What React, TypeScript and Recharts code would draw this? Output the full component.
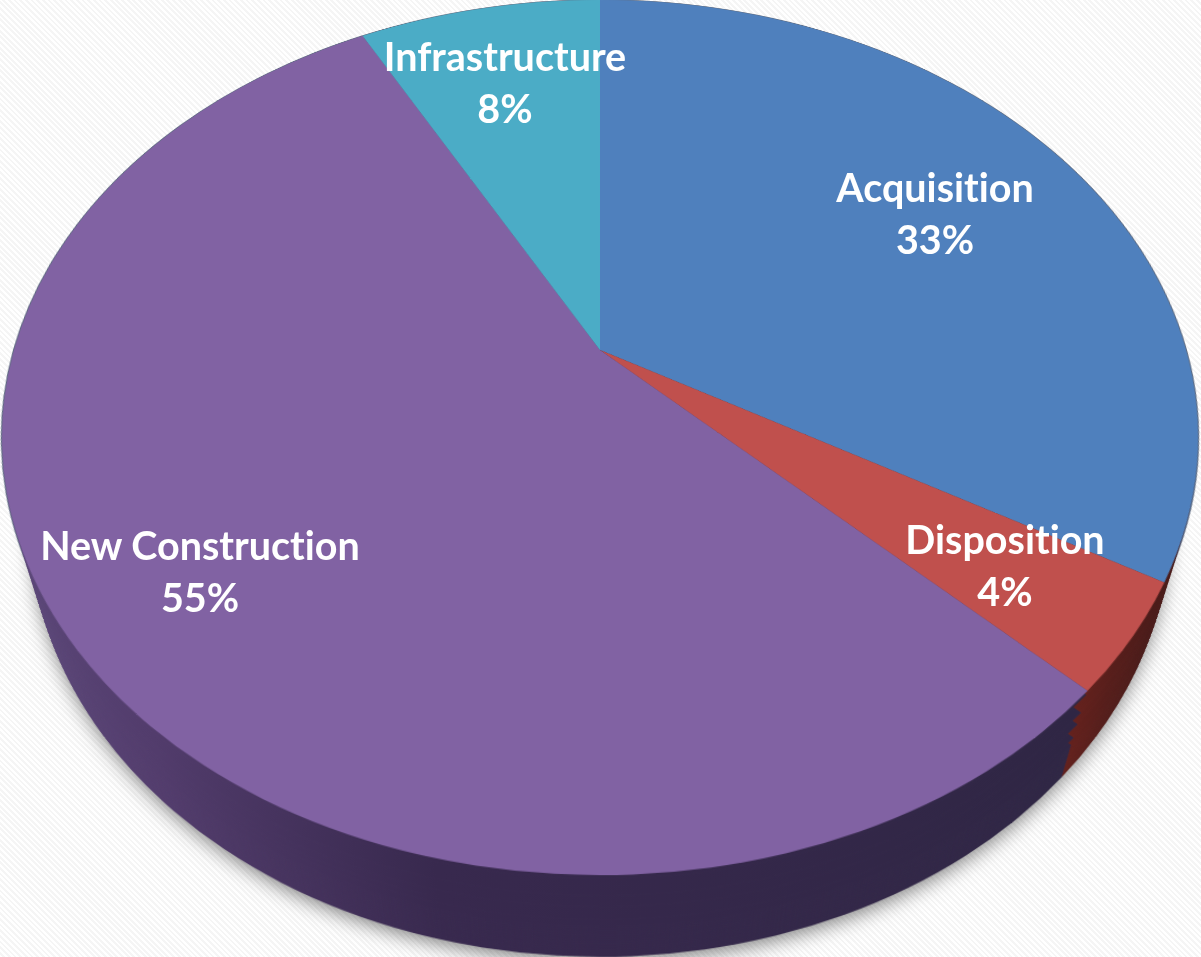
import React from "react";
import { PieChart, Pie, Cell } from "recharts";

const categories = ["Acquisition", "Disposition", "New Construction", "Infrastructure"];
const sliceShares = [33.3, 4, 54.8, 7.9];
const printedShares = ["33%", "4%", "55%", "8%"];
const topColors = ["#4f80bd", "#c0504d", "#8162a3", "#4bacc6"];
const wallFills = ["url(#wallBlue)", "url(#wallRed)", "url(#wallPurple)", "url(#wallAqua)"];
const rimColors = ["#5d6a80", "#5d6a80", "#5d6a80", "#5d6a80"];
const shadowColors = ["#555555", "#555555", "#555555", "#555555"];
const labelCenters = [
  { x: 935, y: 188 },
  { x: 1005, y: 540 },
  { x: 200, y: 546 },
  { x: 505, y: 57 },
];

const pieData = categories.map((name, i) => ({ name, value: sliceShares[i] }));

// the flat pie is tilted back in real perspective, walls are the same pie pushed down in z
const SIZE = 1300;
const MID = SIZE / 2;
const RADIUS = 586;
const CENTER_X = 600;
const CENTER_Y = 350;
const CAMERA = 2043;
const TILT = 44.2;
const DEPTH = 135;
const wallSteps: number[] = [];
for (let z = DEPTH; z > 0; z -= 3) wallSteps.push(z);

const layerStyle = (z: number, extra?: React.CSSProperties): React.CSSProperties => ({
  position: "absolute",
  left: CENTER_X - MID,
  top: CENTER_Y - MID,
  width: SIZE,
  height: SIZE,
  transformOrigin: `${MID}px ${MID}px`,
  transform: `perspective(${CAMERA}px) rotateX(${TILT}deg) translateZ(${-z}px)`,
  ...extra,
});

const FlatPie = ({ fills, radius = RADIUS }: { fills: string[]; radius?: number }) => (
  <PieChart width={SIZE} height={SIZE} margin={{ top: 0, right: 0, bottom: 0, left: 0 }}>
    <Pie
      data={pieData}
      dataKey="value"
      cx={MID}
      cy={MID}
      outerRadius={radius}
      startAngle={90}
      endAngle={-270}
      stroke="none"
      isAnimationActive={false}
    >
      {pieData.map((d, i) => (
        <Cell key={d.name} fill={fills[i]} />
      ))}
    </Pie>
  </PieChart>
);

const renderLabel = (props: any) => {
  const { x, y } = labelCenters[props.index];
  return (
    <text
      key={props.index}
      textAnchor="middle"
      fill="#ffffff"
      fontFamily="Lato, sans-serif"
      fontWeight={700}
      fontSize={39.5}
      style={{ fontVariantLigatures: "none" }}
    >
      <tspan x={x} y={y + 14}>{categories[props.index]}</tspan>
      <tspan x={x} y={y + 66}>{printedShares[props.index]}</tspan>
    </text>
  );
};

export default function App() {
  return (
    <div
      style={{
        position: "absolute",
        left: 0,
        top: 0,
        width: 1201,
        height: 957,
        overflow: "hidden",
        background:
          "repeating-linear-gradient(45deg, #ffffff 0px, #ffffff 2px, #f5f5f5 2px, #f5f5f5 4px)",
      }}
    >
      <svg width={0} height={0} style={{ position: "absolute" }}>
        <defs>
          <linearGradient id="wallPurple" x1="0" y1="0" x2="1" y2="0">
            <stop offset="0" stopColor="#5e4a7c" />
            <stop offset="0.2" stopColor="#523c6c" />
            <stop offset="0.45" stopColor="#38294e" />
            <stop offset="1" stopColor="#2f2644" />
          </linearGradient>
          <linearGradient id="wallRed" x1="0" y1="0" x2="1" y2="0">
            <stop offset="0.82" stopColor="#64211d" />
            <stop offset="0.9" stopColor="#561e1b" />
            <stop offset="1" stopColor="#4a1b19" />
          </linearGradient>
          <linearGradient id="wallBlue" x1="0" y1="0" x2="1" y2="0">
            <stop offset="0" stopColor="#4a1b19" />
            <stop offset="1" stopColor="#4a1b19" />
          </linearGradient>
          <linearGradient id="wallAqua" x1="0" y1="0" x2="1" y2="0">
            <stop offset="0" stopColor="#2d6778" />
            <stop offset="1" stopColor="#2d6778" />
          </linearGradient>
        </defs>
      </svg>

      <div style={layerStyle(DEPTH + 8, { filter: "blur(9px)", opacity: 0.75 })}>
        <FlatPie fills={shadowColors} />
      </div>

      <div style={layerStyle(0)}>
        <FlatPie fills={rimColors} radius={RADIUS + 1} />
      </div>

      {wallSteps.map((z) => (
        <div key={z} style={layerStyle(z)}>
          <FlatPie fills={wallFills} />
        </div>
      ))}

      <div style={layerStyle(0)}>
        <FlatPie fills={topColors} />
      </div>

      <div style={{ position: "absolute", left: 0, top: 0 }}>
        <PieChart width={1201} height={957} margin={{ top: 0, right: 0, bottom: 0, left: 0 }}>
          <Pie
            data={pieData}
            dataKey="value"
            cx={CENTER_X}
            cy={CENTER_Y}
            outerRadius={10}
            startAngle={90}
            endAngle={-270}
            fill="none"
            stroke="none"
            label={renderLabel}
            labelLine={false}
            isAnimationActive={false}
          />
        </PieChart>
      </div>
    </div>
  );
}
